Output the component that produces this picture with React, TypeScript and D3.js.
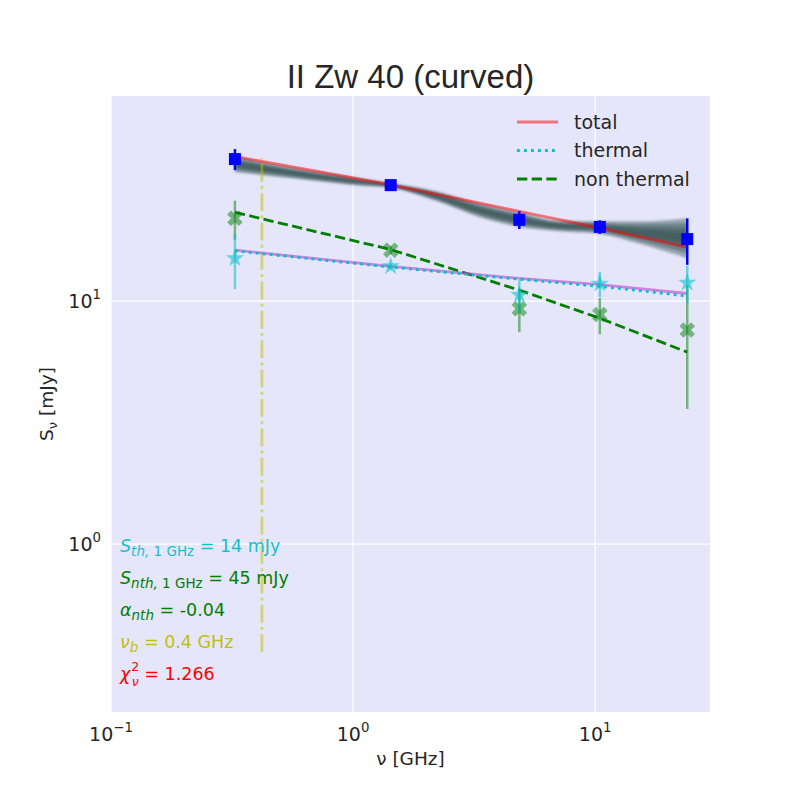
import React from "react";
import * as d3 from "d3";

// observed frequencies [GHz]
const freqs = [0.325, 1.43, 4.86, 10.45, 24.0];

// observed flux densities [mJy] and errors
const totalObs = [38.4, 30.0, 21.6, 20.2, 18.0];
const totalErr = [3.8, 0.8, 1.8, 1.3, 3.9];
const thermalObs = [15.0, 13.9, 10.6, 11.8, 11.9];
const thermalErr = [3.8, 0.4, 1.6, 1.4, 2.1];
const nonthermalObs = [21.9, 16.2, 9.3, 8.8, 7.6];
const nonthermalErr = [4.0, 0.6, 1.85, 1.5, 4.0];

// best-fit model evaluated at the observed frequencies
const totalModel = [39.3, 30.1, 23.4, 20.0, 16.7];
const thermalModel = [16.1, 13.8, 12.3, 11.5, 10.5];
const thermalMedian = [16.2, 13.9, 12.4, 11.7, 10.75];
const nonthermalModel = [23.2, 16.3, 11.1, 8.5, 6.17];

// spread of the posterior samples
const bandFreqs = [0.325, 0.55, 1.0, 1.43, 2.2, 3.3, 4.86, 7.0, 10.45, 15.0, 24.0];
const bandHigh = [39.5, 35.6, 32.4, 30.6, 28.4, 25.3, 23.2, 21.5, 21.3, 21.3, 21.95];
const bandLow = [33.9, 32.0, 30.0, 29.2, 25.8, 22.2, 20.2, 19.4, 18.9, 17.3, 15.0];

// break frequency line
const breakFreq = 0.42;
const breakRange = [0.36, 38.7];

const xTicks = [0.1, 1, 10];
const yTicks = [1, 10];
const xTickExp = ["\u22121", "0", "1"];
const yTickExp = ["0", "1"];

const legendItems = [
    { label: "total", color: "red", opacity: 0.5, dash: "none" },
    { label: "thermal", color: "#00c2cc", opacity: 1, dash: "2.8,4.2" },
    { label: "non thermal", color: "green", opacity: 1, dash: "10.3,4.4" },
];

const W = 800;
const H = 800;
const plotLeft = 111;
const plotRight = 710;
const plotTop = 96;
const plotBottom = 712;
const font = "DejaVu Sans, sans-serif";

export default function App() {
    const x = d3.scaleLog().domain([0.1, 29.8]).range([plotLeft, plotRight]);
    const y = d3.scaleLog().domain([0.204, 69.8]).range([plotBottom, plotTop]);

    const line = d3.line<[number, number]>()
        .x((d) => x(d[0]))
        .y((d) => y(d[1]));

    const pairs = (vals: number[]) => freqs.map((f, i) => [f, vals[i]] as [number, number]);

    // posterior band as nested layers, denser in the middle
    const bandLayers = [1.0, 0.75, 0.5, 0.28].map((frac) => {
        const pts = bandFreqs.map((f, i) => {
            const c = (Math.log10(bandHigh[i]) + Math.log10(bandLow[i])) / 2;
            const h = (Math.log10(bandHigh[i]) - Math.log10(bandLow[i])) / 2;
            return { f, lo: Math.pow(10, c - frac * h), hi: Math.pow(10, c + frac * h) };
        });
        return d3.area<{ f: number; lo: number; hi: number }>()
            .x((d) => x(d.f))
            .y0((d) => y(d.lo))
            .y1((d) => y(d.hi))
            .curve(d3.curveMonotoneX)(pts) as string;
    });

    const star = d3.symbol().type(d3.symbolStar).size(105)() as string;
    const cross = d3.symbol().type(d3.symbolCross).size(150)() as string;

    const errBars = (vals: number[], errs: number[], color: string, opacity: number, width: number) =>
        freqs.map((f, i) => (
            <line key={i} x1={x(f)} x2={x(f)} y1={y(vals[i] - errs[i])} y2={y(vals[i] + errs[i])}
                stroke={color} strokeOpacity={opacity} strokeWidth={width} />
        ));

    const annot = [
        { color: "#17bfcc", main: "S", sub: "th,", subRm: " 1 GHz", rest: " = 14 mJy" },
        { color: "green", main: "S", sub: "nth,", subRm: " 1 GHz", rest: " = 45 mJy" },
        { color: "green", main: "\u03b1", sub: "nth", subRm: "", rest: " = -0.04" },
        { color: "#bfbf10", main: "\u03bd", sub: "b", subRm: "", rest: " = 0.4 GHz" },
        { color: "red", main: "\u03c7", sub: "\u03bd", subRm: "", rest: " = 1.266", sup: "2" },
    ];

    return (
        <svg width={W} height={H} style={{ position: "absolute", left: 0, top: 0, background: "white" }}
            fontFamily={font}>
            <defs>
                <filter id="soft" x="-10%" y="-50%" width="120%" height="200%">
                    <feGaussianBlur stdDeviation="1" />
                </filter>
                <clipPath id="plot">
                    <rect x={plotLeft} y={plotTop} width={plotRight - plotLeft} height={plotBottom - plotTop} />
                </clipPath>
            </defs>

            <rect x={plotLeft} y={plotTop} width={plotRight - plotLeft} height={plotBottom - plotTop} fill="#e6e6fa" />

            {/* grid */}
            {xTicks.map((t) => (
                <line key={"gx" + t} x1={x(t)} x2={x(t)} y1={plotTop} y2={plotBottom} stroke="white" strokeWidth={1.2} />
            ))}
            {yTicks.map((t) => (
                <line key={"gy" + t} x1={plotLeft} x2={plotRight} y1={y(t)} y2={y(t)} stroke="white" strokeWidth={1.2} />
            ))}

            <g clipPath="url(#plot)">
                {/* posterior samples */}
                <g filter="url(#soft)">
                    {bandLayers.map((d, i) => (
                        <path key={i} d={d} fill="#2f4f4f" fillOpacity={0.42} />
                    ))}
                </g>

                {/* break frequency */}
                <line x1={x(breakFreq)} x2={x(breakFreq)} y1={y(breakRange[0])} y2={y(breakRange[1])}
                    stroke="#bfbf00" strokeOpacity={0.5} strokeWidth={2.8} strokeDasharray="17.8,4.4,2.8,4.4" />

                <path d={line(pairs(nonthermalModel)) as string} fill="none" stroke="green" strokeWidth={2.8}
                    strokeDasharray="10.3,4.4" />
                <path d={line(pairs(thermalMedian)) as string} fill="none" stroke="#c040d0" strokeOpacity={0.6}
                    strokeWidth={2.8} />
                <path d={line(pairs(thermalModel)) as string} fill="none" stroke="#00c2cc" strokeWidth={2.8}
                    strokeDasharray="2.8,4.2" />
                <path d={line(pairs(totalModel)) as string} fill="none" stroke="red" strokeOpacity={0.5}
                    strokeWidth={3} />

                {/* non thermal data */}
                {errBars(nonthermalObs, nonthermalErr, "green", 0.5, 2.5)}
                {freqs.map((f, i) => (
                    <path key={"nx" + i} d={cross} transform={`translate(${x(f)},${y(nonthermalObs[i])}) rotate(45)`}
                        fill="green" fillOpacity={0.5} />
                ))}

                {/* thermal data */}
                {errBars(thermalObs, thermalErr, "#00bfc8", 0.55, 2.5)}
                {freqs.map((f, i) => (
                    <path key={"ts" + i} d={star} transform={`translate(${x(f)},${y(thermalObs[i])})`}
                        fill="#00bfc8" fillOpacity={0.55} />
                ))}

                {/* total data */}
                {errBars(totalObs, totalErr, "blue", 1, 2.5)}
                {freqs.map((f, i) => (
                    <rect key={"bs" + i} x={x(f) - 6} y={y(totalObs[i]) - 6} width={12} height={12} fill="blue" />
                ))}
            </g>

            {/* fit summary */}
            {annot.map((a, i) => (
                <text key={"an" + i} x={120} y={552 + i * 32} fill={a.color} fontSize={17.5}>
                    <tspan fontStyle="italic">{a.main}</tspan>
                    {a.sup ? (
                        <>
                            <tspan fontSize={12.5} dx={1} dy={-9}>{a.sup}</tspan>
                            <tspan fontSize={12.5} fontStyle="italic" dx={-7.5} dy={14.5}>{a.sub}</tspan>
                            <tspan dy={-5.5}>{a.rest}</tspan>
                        </>
                    ) : (
                        <>
                            <tspan fontSize={13.5} fontStyle="italic" dy={4}>{a.sub}</tspan>
                            {a.subRm ? <tspan fontSize={13.5}>{a.subRm}</tspan> : null}
                            <tspan dy={-4}>{a.rest}</tspan>
                        </>
                    )}
                </text>
            ))}

            {/* legend */}
            {legendItems.map((d, i) => (
                <g key={d.label} transform={`translate(517,${122 + i * 28.5})`}>
                    <line x1={0} x2={41} y1={0} y2={0} stroke={d.color} strokeOpacity={d.opacity} strokeWidth={2.8}
                        strokeDasharray={d.dash} />
                    <text x={57} y={6.5} fontSize={19} fill="#262626">{d.label}</text>
                </g>
            ))}

            {/* axes tick labels */}
            {xTicks.map((t, i) => (
                <text key={"xt" + t} x={x(t)} y={741} textAnchor="middle" fontSize={19} fill="#262626">
                    <tspan>10</tspan>
                    <tspan fontSize={13.3} dy={-9}>{xTickExp[i]}</tspan>
                </text>
            ))}
            {yTicks.map((t, i) => (
                <text key={"yt" + t} x={101} y={y(t) + 7} textAnchor="end" fontSize={19} fill="#262626">
                    <tspan>10</tspan>
                    <tspan fontSize={13.3} dy={-9}>{yTickExp[i]}</tspan>
                </text>
            ))}

            {/* axis labels */}
            <text x={(plotLeft + plotRight) / 2} y={765} textAnchor="middle" fontSize={18.5} fill="#262626">
                {"\u03bd [GHz]"}
            </text>
            <text transform={`translate(53,${(plotTop + plotBottom) / 2}) rotate(-90)`} textAnchor="middle"
                fontSize={18.5} fill="#262626">
                <tspan>S</tspan>
                <tspan fontSize={13} dy={4}>{"\u03bd"}</tspan>
                <tspan dy={-4}>{" [mJy]"}</tspan>
            </text>

            {/* title */}
            <text x={(plotLeft + plotRight) / 2} y={88} textAnchor="middle" fontSize={33}
                fontFamily="Liberation Sans, Arial, sans-serif" fill="#262626">
                II Zw 40 (curved)
            </text>
        </svg>
    );
}
